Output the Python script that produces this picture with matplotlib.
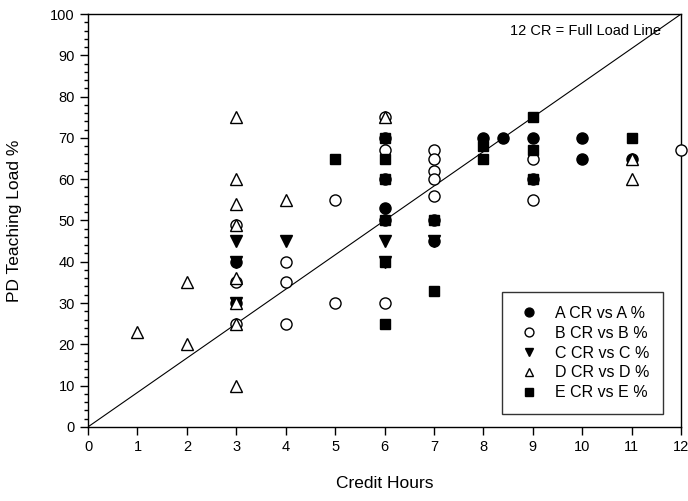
import matplotlib
matplotlib.use('Agg')
from matplotlib import pyplot as plt
from matplotlib.ticker import MultipleLocator

plt.rcParams['font.family'] = ['Liberation Sans', 'DejaVu Sans']

# credit hours (x) and teaching load % (y) for each group
a_x = [3, 3, 6, 6, 6, 6, 7, 7, 8, 8.4, 9, 9, 10, 10, 11]
a_y = [40, 30, 70, 60, 53, 50, 50, 45, 70, 70, 70, 60, 70, 65, 65]

b_x = [3, 3, 3, 4, 4, 4, 5, 5, 6, 6, 6, 7, 7, 7, 7, 7, 9, 9, 12]
b_y = [49, 35, 25, 40, 35, 25, 55, 30, 75, 67, 30, 67, 65, 62, 60, 56, 65, 55, 67]

c_x = [3, 3, 3, 4, 6, 6, 7]
c_y = [45, 40, 30, 45, 45, 40, 45]

d_x = [1, 2, 2, 3, 3, 3, 3, 3, 3, 3, 3, 4, 6, 11, 11]
d_y = [23, 35, 20, 75, 60, 54, 49, 36, 30, 25, 10, 55, 75, 65, 60]

e_x = [5, 6, 6, 6, 6, 6, 6, 7, 7, 8, 8, 9, 9, 9, 11]
e_y = [65, 70, 65, 60, 50, 40, 25, 50, 33, 68, 65, 75, 67, 60, 70]

full_load_x = [0, 12]
full_load_y = [0, 100]

fig = plt.figure(figsize=(6.88, 5.01), dpi=100)
ax = fig.add_axes([0.128, 0.148, 0.862, 0.824])

ax.plot(full_load_x, full_load_y, color='black', lw=0.8, zorder=1)

ms = 8
kw = dict(clip_on=False, zorder=3, linestyle='none', markeredgecolor='black', markeredgewidth=1)
ax.plot(a_x, a_y, marker='o', markersize=ms, markerfacecolor='black', label='A CR vs A %', **kw)
ax.plot(b_x, b_y, marker='o', markersize=ms, markerfacecolor='white', label='B CR vs B %', **kw)
ax.plot(c_x, c_y, marker='v', markersize=ms, markerfacecolor='black', label='C CR vs C %', **kw)
ax.plot(d_x, d_y, marker='^', markersize=ms, markerfacecolor='white', label='D CR vs D %', **kw)
ax.plot(e_x, e_y, marker='s', markersize=ms - 1, markerfacecolor='black', label='E CR vs E %', **kw)

ax.text(11.6, 96, '12 CR = Full Load Line', ha='right', va='center', fontsize=10.5)

ax.set_xlim(0, 12)
ax.set_ylim(0, 100)
ax.xaxis.set_major_locator(MultipleLocator(1))
ax.yaxis.set_major_locator(MultipleLocator(10))
ax.yaxis.set_minor_locator(MultipleLocator(2))
ax.tick_params(axis='both', which='major', direction='out', length=6, width=1, labelsize=10.5)
ax.tick_params(axis='y', which='minor', direction='out', length=3, width=1)
for s in ax.spines.values():
    s.set_linewidth(1)

ax.set_xlabel('Credit Hours', fontsize=12.5, labelpad=16)
ax.set_ylabel('PD Teaching Load %', fontsize=12.5, labelpad=20)

leg = ax.legend(loc='lower right', bbox_to_anchor=(0.97, 0.03), fontsize=11.5,
                markerscale=0.8, frameon=True, fancybox=False, edgecolor='black',
                borderpad=0.9, labelspacing=0.3, handlelength=1.6, handletextpad=0.8,
                borderaxespad=0)
leg.get_frame().set_linewidth(1)

plt.savefig('out.png', dpi=100)
